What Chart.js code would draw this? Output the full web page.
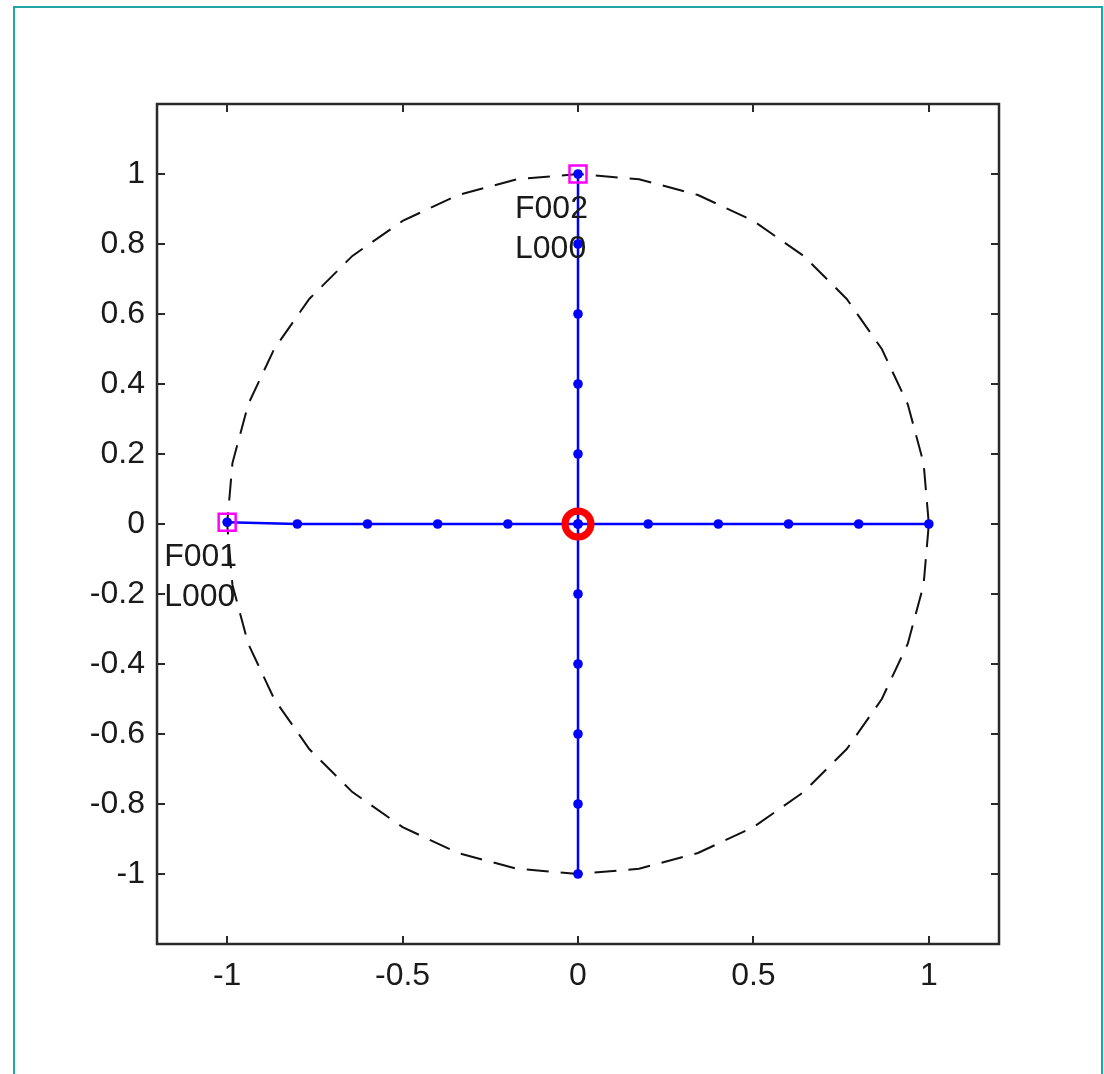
<!DOCTYPE html>
<html>
<head>
<meta charset="utf-8">
<title>Unit circle layout</title>
<script src="https://cdn.jsdelivr.net/npm/chart.js@4.4.1/dist/chart.umd.min.js"></script>
<style>
  html, body { margin: 0; padding: 0; background: #ffffff; overflow: hidden; }
  #wrap { position: relative; width: 1104px; height: 1074px; }
  #frame {
    position: absolute; left: 13px; top: 6px; width: 1090px; height: 1100px;
    border: 2px solid #1fa7a8; box-sizing: border-box;
  }
  #chart { position: absolute; left: 0; top: 0; }
</style>
</head>
<body>
<div id="wrap">
  <div id="frame"></div>
  <canvas id="chart" width="1104" height="1074"></canvas>
</div>
<script>
// Horizontal feeder: from F001 at the left edge across to x = 1
const feederAX = [-1, -0.8, -0.6, -0.4, -0.2, 0, 0.2, 0.4, 0.6, 0.8, 1];
const feederAY = [0.005, 0, 0, 0, 0, 0, 0, 0, 0, 0, 0];

// Vertical feeder: from F002 at the top down to y = -1
const feederBX = [0, 0, 0, 0, 0, 0, 0, 0, 0, 0, 0];
const feederBY = [1, 0.8, 0.6, 0.4, 0.2, 0, -0.2, -0.4, -0.6, -0.8, -1];

// Source nodes (squares) and their labels
const sourceX = [-1, 0];
const sourceY = [0.005, 1];
const sourceLabels = [["F001", "L000"], ["F002", "L000"]];

// Centre node (ring)
const centreX = [0];
const centreY = [0];

// Reference unit circle, one vertex every 10 degrees
const ringX = [1, 0.985, 0.940, 0.866, 0.766, 0.643, 0.5, 0.342, 0.174, 0,
  -0.174, -0.342, -0.5, -0.643, -0.766, -0.866, -0.940, -0.985, -1,
  -0.985, -0.940, -0.866, -0.766, -0.643, -0.5, -0.342, -0.174, 0,
  0.174, 0.342, 0.5, 0.643, 0.766, 0.866, 0.940, 0.985, 1];
const ringY = [0, 0.174, 0.342, 0.5, 0.643, 0.766, 0.866, 0.940, 0.985, 1,
  0.985, 0.940, 0.866, 0.766, 0.643, 0.5, 0.342, 0.174, 0,
  -0.174, -0.342, -0.5, -0.643, -0.766, -0.866, -0.940, -0.985, -1,
  -0.985, -0.940, -0.866, -0.766, -0.643, -0.5, -0.342, -0.174, 0];

// Axis ticks
const xTicks = [-1, -0.5, 0, 0.5, 1];
const yTicks = [-1, -0.8, -0.6, -0.4, -0.2, 0, 0.2, 0.4, 0.6, 0.8, 1];
const axisMin = -1.2;
const axisMax = 1.2;

const pts = (xs, ys) => xs.map((x, i) => ({ x: x, y: ys[i] }));

const FONT_FAMILY = "'Liberation Sans Narrow', 'Arial Narrow', 'Liberation Sans', Arial, sans-serif";
const AXIS_COLOR = '#2a2a2a';

// Closed box around the plot with inward tick marks on all four sides,
// plus the two-line node labels.
const frameAndLabels = {
  id: 'frameAndLabels',
  afterDatasetsDraw(chart) {
    const { ctx, chartArea: a, scales } = chart;
    const xs = scales.x, ys = scales.y;
    const tl = 8;
    ctx.save();
    ctx.strokeStyle = AXIS_COLOR;
    ctx.lineWidth = 2;
    ctx.beginPath();
    xTicks.forEach(v => {
      const px = Math.round(xs.getPixelForValue(v));
      ctx.moveTo(px, a.bottom); ctx.lineTo(px, a.bottom - tl);
      ctx.moveTo(px, a.top); ctx.lineTo(px, a.top + tl);
    });
    yTicks.forEach(v => {
      const py = Math.round(ys.getPixelForValue(v));
      ctx.moveTo(a.left, py); ctx.lineTo(a.left + tl, py);
      ctx.moveTo(a.right, py); ctx.lineTo(a.right - tl, py);
    });
    ctx.stroke();
    ctx.lineWidth = 2.5;
    ctx.strokeRect(a.left, a.top, a.right - a.left, a.bottom - a.top);

    ctx.fillStyle = '#1a1a1a';
    ctx.font = '32px ' + FONT_FAMILY;
    ctx.textAlign = 'left';
    ctx.textBaseline = 'alphabetic';
    sourceLabels.forEach((lines, i) => {
      const px = xs.getPixelForValue(sourceX[i]);
      const py = ys.getPixelForValue(sourceY[i]);
      lines.forEach((t, j) => ctx.fillText(t, px - 63, py + 44 + j * 40));
    });
    ctx.restore();
  }
};

new Chart(document.getElementById('chart'), {
  type: 'scatter',
  data: {
    datasets: [
      {
        label: 'centre',
        data: pts(centreX, centreY),
        order: 0,
        pointStyle: 'circle',
        pointRadius: 13,
        pointBorderWidth: 7,
        pointBorderColor: '#ff0000',
        pointBackgroundColor: 'rgba(0,0,0,0)',
        showLine: false
      },
      {
        label: 'sources',
        data: pts(sourceX, sourceY),
        order: 1,
        pointStyle: 'rect',
        pointRadius: 12,
        pointBorderWidth: 2.5,
        pointBorderColor: '#ff00ff',
        pointBackgroundColor: 'rgba(0,0,0,0)',
        showLine: false
      },
      {
        label: 'feeder A',
        data: pts(feederAX, feederAY),
        order: 2,
        showLine: true,
        borderColor: '#0000ff',
        borderWidth: 2.5,
        pointStyle: 'circle',
        pointRadius: 4.8,
        pointBorderWidth: 0,
        pointBackgroundColor: '#0000ff'
      },
      {
        label: 'feeder B',
        data: pts(feederBX, feederBY),
        order: 3,
        showLine: true,
        borderColor: '#0000ff',
        borderWidth: 2.5,
        pointStyle: 'circle',
        pointRadius: 4.8,
        pointBorderWidth: 0,
        pointBackgroundColor: '#0000ff'
      },
      {
        label: 'unit circle',
        data: pts(ringX, ringY),
        order: 4,
        showLine: true,
        borderColor: '#111111',
        borderWidth: 2,
        borderDash: [22, 12],
        pointRadius: 0,
        tension: 0
      }
    ]
  },
  options: {
    responsive: false,
    animation: false,
    events: [],
    layout: { padding: { left: 0, top: 104, right: 105, bottom: 0 } },
    plugins: { legend: { display: false }, tooltip: { enabled: false } },
    scales: {
      x: {
        type: 'linear',
        min: axisMin, max: axisMax,
        grid: { display: false, drawTicks: false },
        border: { display: false },
        afterBuildTicks: s => { s.ticks = xTicks.map(v => ({ value: v })); },
        afterFit: s => { s.height = 130; },
        ticks: {
          padding: 13,
          color: '#1a1a1a',
          font: { family: FONT_FAMILY, size: 32 },
          maxRotation: 0,
          callback: v => String(v)
        }
      },
      y: {
        type: 'linear',
        min: axisMin, max: axisMax,
        grid: { display: false, drawTicks: false },
        border: { display: false },
        afterBuildTicks: s => { s.ticks = yTicks.map(v => ({ value: v })); },
        afterFit: s => { s.width = 157; },
        ticks: {
          padding: 12,
          color: '#1a1a1a',
          font: { family: FONT_FAMILY, size: 32 },
          callback: v => String(v)
        }
      }
    }
  },
  plugins: [frameAndLabels]
});
</script>
</body>
</html>
